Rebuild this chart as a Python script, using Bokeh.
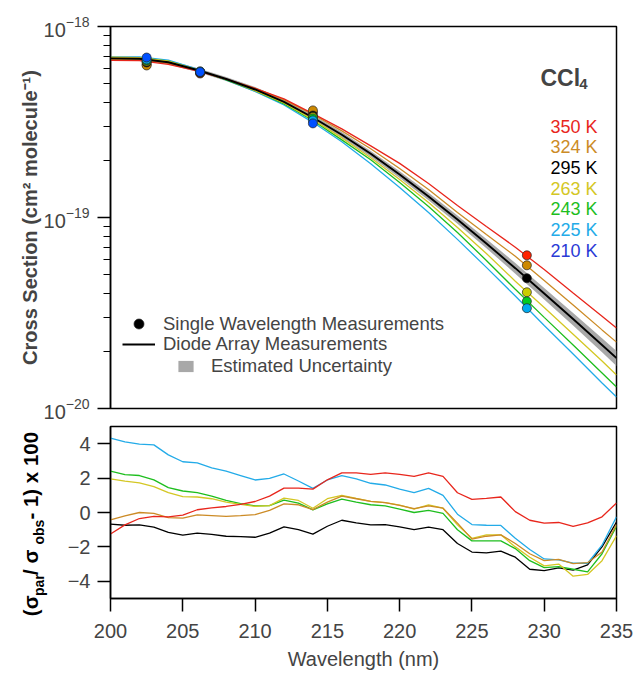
import math
from bokeh.plotting import figure
from bokeh.models import Range1d, FixedTicker, Label, Legend, LegendItem, LogTickFormatter
from bokeh.core.properties import value
from bokeh.layouts import column, row
from bokeh.embed import file_html
from bokeh.resources import INLINE

FONT = "Liberation Sans"

# ---------------- data ----------------
temps = ["350 K", "324 K", "295 K", "263 K", "243 K", "225 K", "210 K"]
line_colors = ["#e8261c", "#cc8b26", "#000000", "#d4c724", "#1ebe1e", "#23abe8", "#2a3ad6"]
point_colors = ["#ff2200", "#cc8800", "#000000", "#cccc00", "#00cc22", "#00aaee", "#0050ff"]

# top panel: cross sections (cm2 molecule-1)
wl_top = [200, 202, 204, 206, 208, 210, 212, 214, 216, 218, 220, 222, 224, 226, 228, 230, 232, 234, 235]
xs_350 = [6.65e-19, 6.62e-19, 6.34e-19, 5.85e-19, 5.31e-19, 4.74e-19, 4.18e-19, 3.50e-19, 2.91e-19, 2.37e-19,
          1.92e-19, 1.506e-19, 1.157e-19, 8.97e-20, 6.99e-20, 5.34e-20, 4.02e-20, 3.04e-20, 2.636e-20]
xs_324 = [6.73e-19, 6.70e-19, 6.42e-19, 5.92e-19, 5.31e-19, 4.74e-19, 4.13e-19, 3.46e-19, 2.84e-19, 2.29e-19,
          1.805e-19, 1.401e-19, 1.063e-19, 8.15e-20, 6.27e-20, 4.68e-20, 3.48e-20, 2.58e-20, 2.226e-20]
xs_295 = [6.81e-19, 6.78e-19, 6.50e-19, 5.92e-19, 5.31e-19, 4.68e-19, 4.03e-19, 3.34e-19, 2.71e-19, 2.155e-19,
          1.679e-19, 1.288e-19, 9.77e-20, 7.31e-20, 5.43e-20, 4.00e-20, 2.94e-20, 2.15e-20, 1.837e-20]
xs_263 = [6.89e-19, 6.86e-19, 6.58e-19, 5.92e-19, 5.31e-19, 4.62e-19, 3.98e-19, 3.26e-19, 2.61e-19, 2.054e-19,
          1.582e-19, 1.198e-19, 8.87e-20, 6.48e-20, 4.64e-20, 3.38e-20, 2.45e-20, 1.774e-20, 1.497e-20]
xs_243 = [6.89e-19, 6.86e-19, 6.58e-19, 5.92e-19, 5.25e-19, 4.62e-19, 3.93e-19, 3.22e-19, 2.55e-19, 2.004e-19,
          1.525e-19, 1.142e-19, 8.35e-20, 5.96e-20, 4.21e-20, 3.00e-20, 2.15e-20, 1.535e-20, 1.295e-20]
xs_225 = [6.89e-19, 6.94e-19, 6.66e-19, 5.99e-19, 5.25e-19, 4.57e-19, 3.88e-19, 3.15e-19, 2.49e-19, 1.911e-19,
          1.436e-19, 1.063e-19, 7.68e-20, 5.48e-20, 3.88e-20, 2.72e-20, 1.93e-20, 1.361e-20, 1.148e-20]
# estimated uncertainty of the 295 K spectrum (percent)
unc_295 = [2.5, 2.5, 2.5, 2.5, 2.5, 3, 3, 3, 3.5, 3.5, 4, 4.5, 5, 5.5, 6.5, 7, 7.5, 8.5, 9]

# single wavelength measurements
pt_wl = [202.5, 206.2, 214.0, 228.8]
pt_350 = [6.33e-19, 5.675e-19, 3.549e-19, 6.34e-20]
pt_324 = [6.25e-19, 5.71e-19, 3.637e-19, 5.62e-20]
pt_295 = [6.48e-19, 5.745e-19, 3.42e-19, 4.81e-20]
pt_263 = [6.56e-19, 5.78e-19, 3.36e-19, 4.06e-20]
pt_243 = [6.64e-19, 5.815e-19, 3.302e-19, 3.64e-20]
pt_225 = [6.72e-19, 5.815e-19, 3.224e-19, 3.35e-20]
pt_210 = [6.88e-19, 5.78e-19, 3.11e-19]

# bottom panel: (sigma_par / sigma_obs - 1) x 100
wl_bot = list(range(200, 236))
dev_350 = [-1.25, -0.72, -0.35, -0.22, -0.26, -0.15, 0.16, 0.27, 0.35, 0.47, 0.64, 0.95, 1.42, 1.42, 1.36, 1.9,
           2.3, 2.3, 2.22, 2.3, 2.22, 2.1, 2.3, 2.1, 1.15, 0.76, 0.82, 0.9, 0.05, -0.45, -0.62, -0.58, -0.8,
           -0.6, -0.25, 0.55]
dev_324 = [-0.43, -0.2, 0.0, -0.05, -0.3, -0.33, -0.14, -0.18, -0.22, -0.18, -0.12, 0.12, 0.5, 0.45, 0.17, 0.6,
           0.95, 0.8, 0.65, 0.58, 0.42, 0.22, 0.38, 0.25, -0.62, -1.55, -1.38, -1.3, -1.8, -2.4, -2.8, -2.72,
           -2.97, -2.92, -2.3, -0.7]
dev_295 = [-0.68, -0.74, -0.72, -0.85, -1.15, -1.32, -1.2, -1.27, -1.38, -1.4, -1.44, -1.2, -0.84, -1.0, -1.26,
           -0.8, -0.45, -0.6, -0.72, -0.7, -0.84, -1.0, -0.85, -1.0, -1.8, -2.3, -2.35, -2.25, -2.6, -3.3,
           -3.38, -3.22, -3.35, -3.05, -2.0, -0.55]
dev_263 = [1.95, 1.82, 1.72, 1.5, 1.15, 0.92, 0.9, 0.8, 0.6, 0.47, 0.36, 0.4, 0.84, 0.7, 0.25, 0.8, 1.0, 0.82,
           0.65, 0.58, 0.43, 0.2, 0.45, 0.25, -0.72, -1.5, -1.3, -1.3, -2.0, -2.6, -3.1, -3.0, -3.7, -3.6,
           -2.8, -1.35]
dev_243 = [2.4, 2.2, 2.15, 1.9, 1.45, 1.25, 1.15, 0.95, 0.7, 0.52, 0.38, 0.4, 0.72, 0.55, 0.15, 0.5, 0.78, 0.6,
           0.45, 0.38, 0.2, 0.0, 0.12, -0.05, -1.0, -1.65, -1.65, -1.65, -2.1, -2.8, -3.2, -3.15, -3.3, -3.45,
           -2.4, -0.8]
dev_225 = [4.32, 4.1, 3.97, 3.93, 3.35, 2.95, 2.88, 2.6, 2.4, 2.15, 1.89, 1.98, 2.24, 1.83, 1.4, 1.89, 2.14,
           1.95, 1.7, 1.6, 1.36, 1.15, 1.4, 1.0, -0.1, -0.7, -0.74, -0.75, -1.5, -2.15, -2.7, -2.75, -2.95,
           -2.95, -1.9, -0.25]

x_ticks = [200, 205, 210, 215, 220, 225, 230, 235]
y_ticks_bot = [-4, -2, 0, 2, 4]
y_ticks_top = [1e-20, 1e-19, 1e-18]
y_minor_top = [2e-20, 3e-20, 4e-20, 5e-20, 6e-20, 7e-20, 8e-20, 9e-20,
               2e-19, 3e-19, 4e-19, 5e-19, 6e-19, 7e-19, 8e-19, 9e-19]

# ---------------- helpers ----------------
CW = {' ': .278, '(': .333, ')': .333, '/': .278, '-': .333, 'x': .556, 'σ': .617, 'p': .611, 'a': .556,
      'r': .389, 'o': .611, 'b': .611, 's': .556, 'C': .722, 'S': .667, 'e': .556, 'c': .556, 't': .333,
      'i': .278, 'n': .611, 'm': .889, 'l': .278, 'u': .611}


def tw(s, size):
    return sum(CW.get(ch, .556) for ch in s) * size


def style_common(p):
    p.grid.visible = False
    p.outline_line_color = "black"
    p.outline_line_width = 1.5
    p.background_fill_color = "white"
    p.border_fill_color = "white"
    p.frame_align = False


# ---------------- top panel ----------------
p1 = figure(width=635, height=424, output_backend="svg", toolbar_location=None,
            x_range=Range1d(200, 235), y_range=Range1d(1e-20, 1e-18), y_axis_type="log",
            x_axis_location=None, min_border_left=110, min_border_right=19,
            min_border_top=26, min_border_bottom=16)
style_common(p1)
ya = p1.yaxis[0]
ya.ticker = FixedTicker(ticks=y_ticks_top, minor_ticks=y_minor_top)
ya.formatter = LogTickFormatter()
ya.major_label_text_font = FONT
ya.major_label_text_font_size = "20px"
ya.major_tick_out = 13
ya.major_tick_in = 0
ya.minor_tick_out = 7
ya.minor_tick_in = 0
ya.axis_line_width = 1.5
ya.major_tick_line_width = 1.5
ya.minor_tick_line_width = 1.2
ya.major_label_standoff = 8
ya.axis_label = "Cross Section (cm\u00b2 molecule\u207b\u00b9)"
ya.axis_label_text_font = FONT
ya.axis_label_text_font_size = "20px"
ya.axis_label_text_font_style = "bold"
ya.axis_label_standoff = 0

lower = [v * (1 - u / 100) for v, u in zip(xs_295, unc_295)]
upper = [v * (1 + u / 100) for v, u in zip(xs_295, unc_295)]
r_band = p1.varea(x=wl_top, y1=lower, y2=upper, fill_color="#a8a8a8")

series_top = [xs_350, xs_324, xs_295, xs_263, xs_243, xs_225]
r_black_line = None
for i in [5, 4, 3, 1, 0, 2]:
    r = p1.line(wl_top, series_top[i], line_color=line_colors[i], line_width=1.9 if i == 2 else 1.3)
    if i == 2:
        r_black_line = r

pts = [pt_350, pt_324, pt_295, pt_263, pt_243, pt_225, pt_210]
r_pts = {}
for i, ys in enumerate(pts):
    r_pts[i] = p1.scatter(pt_wl[:len(ys)], ys, size=9, fill_color=point_colors[i],
                          line_color="#222222", line_width=0.7)

p1.add_layout(Label(x=430, y=331, x_units="screen", y_units="screen", text="CCl", text_font=FONT,
                    text_font_size="23px", text_font_style="bold", text_baseline="alphabetic"))
p1.add_layout(Label(x=430 + tw("CCl", 23) * 0.98, y=325, x_units="screen", y_units="screen", text="4",
                    text_font=FONT, text_font_size="15px", text_font_style="bold",
                    text_baseline="alphabetic"))
for i, t in enumerate(temps):
    p1.add_layout(Label(x=487, y=282 - i * 20.7, x_units="screen", y_units="screen", text=t,
                        text_align="right", text_baseline="middle", text_font=FONT,
                        text_font_size="18px", text_color=line_colors[i]))


def mk_legend(label, renderer, loc, gw, gh, standoff):
    lg = Legend(items=[LegendItem(label=label, renderers=[renderer])], location=loc,
                glyph_width=gw, glyph_height=gh, label_height=gh, label_standoff=standoff,
                padding=0, margin=0, spacing=0, border_line_color=None, background_fill_alpha=0,
                label_text_font=FONT, label_text_font_size="18.5px")
    p1.add_layout(lg, "center")


mk_legend("Single Wavelength Measurements", r_pts[2], (12, 72), 33, 25, 8)
mk_legend("Diode Array Measurements", r_black_line, (12, 53), 33, 20, 8)
mk_legend("Estimated Uncertainty", r_band, (66, 31), 19, 14, 16)

# ---------------- bottom panel ----------------
p2 = figure(width=585, height=251, output_backend="svg", toolbar_location=None,
            x_range=Range1d(200, 235), y_range=Range1d(-5, 5),
            min_border_left=60, min_border_right=19, min_border_top=2, min_border_bottom=77)
style_common(p2)
xa = p2.xaxis[0]
xa.ticker = FixedTicker(ticks=x_ticks)
xa.major_label_text_font = FONT
xa.major_label_text_font_size = "20px"
xa.major_tick_out = 13
xa.major_tick_in = 0
xa.minor_tick_line_color = None
xa.axis_line_width = 1.5
xa.major_tick_line_width = 1.5
xa.major_label_standoff = 12
xa.axis_label = "Wavelength (nm)"
xa.axis_label_text_font = FONT
xa.axis_label_text_font_size = "20px"
xa.axis_label_text_font_style = "normal"
xa.axis_label_standoff = 7

yb = p2.yaxis[0]
yb.ticker = FixedTicker(ticks=y_ticks_bot)
yb.major_label_text_font = FONT
yb.major_label_text_font_size = "20px"
yb.major_tick_out = 13
yb.major_tick_in = 0
yb.minor_tick_line_color = None
yb.axis_line_width = 1.5
yb.major_tick_line_width = 1.5
yb.major_label_standoff = 7

series_bot = [dev_350, dev_324, dev_295, dev_263, dev_243, dev_225]
for i in [2, 5, 4, 3, 1, 0]:
    p2.line(wl_bot, series_bot[i], line_color=line_colors[i], line_width=1.3)

# strip left of the bottom panel holding its composite (sub-scripted) y title
lab2 = figure(title=None, frame_width=50, frame_height=251, output_backend="svg", toolbar_location=None,
              x_range=Range1d(0, 50), y_range=Range1d(0, 251), x_axis_location=None,
              y_axis_location=None, min_border=0, min_border_left=0, min_border_right=0,
              min_border_top=0, min_border_bottom=0)
lab2.grid.visible = False
lab2.outline_line_color = None
lab2.background_fill_color = "white"
lab2.border_fill_color = "white"
lab2.frame_align = False

# (text, font px, centre line across the text direction)
title_pieces = [("(σ", 20.5, 30), ("par", 14, 38), (" / σ", 20.5, 30), ("obs", 14, 38),
                (" - 1) x 100", 20.5, 30)]
pos = 60.0
for txt, size, xc in title_pieces:
    w = tw(txt, size)
    lab2.text(x=[xc], y=[pos + w / 2], text=[txt], angle=math.pi / 2, text_align="center",
              text_baseline="middle", text_font=value(FONT), text_font_size=f"{size}px",
              text_font_style="bold", text_color="black")
    pos += w

layout = column(p1, row(lab2, p2, spacing=0), spacing=0)
open("out.html", "w").write(file_html(layout, INLINE))
